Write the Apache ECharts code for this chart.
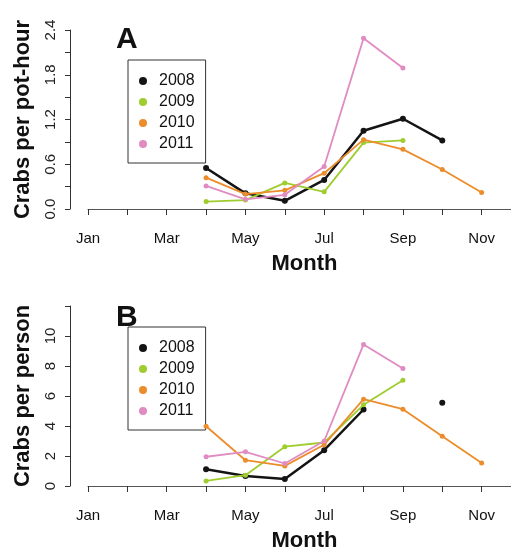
<!DOCTYPE html>
<html>
<head>
<meta charset="utf-8">
<script src="https://cdn.jsdelivr.net/npm/echarts@6/dist/echarts.min.js"></script>
<style>
html, body { margin: 0; padding: 0; background: #fff; }
#chart { width: 511px; height: 548px; }
</style>
</head>
<body>
<div id="chart"></div>
<script>
var months = [4, 5, 6, 7, 8, 9, 10, 11];
var monthNames = ['Jan', 'Feb', 'Mar', 'Apr', 'May', 'Jun', 'Jul', 'Aug', 'Sep', 'Oct', 'Nov', 'Dec'];
var years = ['2008', '2009', '2010', '2011'];
var colors = ['#141414', '#9fcd2e', '#ec8d2c', '#e08cc2'];

// A: crabs per pot-hour
var potHour2008 = [0.55, 0.21, 0.11, 0.39, 1.05, 1.21, 0.92, null];
var potHour2009 = [0.10, 0.12, 0.35, 0.23, 0.89, 0.92, null, null];
var potHour2010 = [0.42, 0.20, 0.25, 0.48, 0.93, 0.80, 0.53, 0.22];
var potHour2011 = [0.31, 0.13, 0.19, 0.57, 2.29, 1.89, null, null];

// B: crabs per person
var person2008 = [1.12, 0.67, 0.47, 2.39, 5.10, null, 5.55, null];
var person2009 = [0.34, 0.72, 2.62, 2.90, 5.41, 7.05, null, null];
var person2010 = [3.98, 1.72, 1.34, 2.75, 5.79, 5.12, 3.31, 1.54];
var person2011 = [1.95, 2.28, 1.50, 3.00, 9.44, 7.83, null, null];

var font = "'Liberation Sans', Arial, sans-serif";

function pairs(vals) {
	return vals.map(function(v, i) {
		return [months[i], v === null ? '-' : v];
	});
}

function makeX(idx) {
	return {
		type: 'value',
		gridIndex: idx,
		min: 1,
		max: 12,
		interval: 1,
		offset: 8,
		name: 'Month',
		nameLocation: 'middle',
		nameGap: 36,
		nameTextStyle: { fontFamily: font, fontSize: 22, fontWeight: 'bold', color: '#111' },
		splitLine: { show: false },
		axisLine: { lineStyle: { color: '#555', width: 1 } },
		axisTick: { length: 6, lineStyle: { color: '#333' } },
		axisLabel: {
			margin: 14,
			fontFamily: font,
			fontSize: 15,
			color: '#111',
			formatter: function(v) {
				return v % 2 === 1 && v < 12 ? monthNames[v - 1] : '';
			}
		}
	};
}

function makeY(idx, name, max, step, labelStep) {
	return {
		type: 'value',
		gridIndex: idx,
		min: 0,
		max: max,
		interval: step,
		offset: 18,
		name: name,
		nameLocation: 'middle',
		nameRotate: 90,
		nameGap: 36,
		nameTextStyle: { fontFamily: font, fontSize: 22, fontWeight: 'bold', color: '#111' },
		splitLine: { show: false },
		axisLine: { show: true, lineStyle: { color: '#333', width: 1 } },
		axisTick: { show: true, length: 5, lineStyle: { color: '#333' } },
		axisLabel: {
			rotate: 90,
			margin: 12,
			fontFamily: font,
			fontSize: 15,
			color: '#222',
			formatter: function(v) {
				var r = v / labelStep;
				if (Math.abs(r - Math.round(r)) > 1e-6 || v >= max - 1e-9 && max === 12) return '';
				return labelStep < 1 ? v.toFixed(1) : String(v);
			}
		}
	};
}

var seriesA = [potHour2008, potHour2009, potHour2010, potHour2011];
var seriesB = [person2008, person2009, person2010, person2011];
var series = [];

[seriesA, seriesB].forEach(function(set, g) {
	set.forEach(function(vals, k) {
		series.push({
			name: years[k],
			type: 'line',
			xAxisIndex: g,
			yAxisIndex: g,
			data: pairs(vals),
			symbol: 'circle',
			symbolSize: k === 0 ? 6 : 5,
			showSymbol: true,
			connectNulls: false,
			lineStyle: { color: colors[k], width: k === 0 ? 2.5 : 1.8 },
			itemStyle: { color: colors[k] },
			z: 2 + k
		});
	});
});

function makeLegend(top) {
	return {
		orient: 'vertical',
		left: 128,
		top: top,
		data: years,
		icon: 'circle',
		itemWidth: 8,
		itemHeight: 8,
		itemGap: 5,
		padding: [13, 11, 11, 11],
		borderColor: '#333',
		borderWidth: 1,
		selectedMode: false,
		textStyle: { fontFamily: font, fontSize: 16, lineHeight: 16, color: '#111', padding: [0, 0, 0, 7] }
	};
}

var chart = echarts.init(document.getElementById('chart'), null, { renderer: 'canvas' });

chart.setOption({
	backgroundColor: '#fff',
	animation: false,
	color: colors,
	title: [{
		text: 'A',
		left: 116,
		top: 25,
		padding: 0,
		textStyle: { fontFamily: font, fontSize: 30, fontWeight: 'bold', color: '#111' }
	}, {
		text: 'B',
		left: 116,
		top: 303,
		padding: 0,
		textStyle: { fontFamily: font, fontSize: 30, fontWeight: 'bold', color: '#111' }
	}],
	legend: [makeLegend(60), makeLegend(327)],
	grid: [{
		left: 88, right: -10, top: 30, height: 179, outerBoundsMode: 'none'
	}, {
		left: 88, right: -10, top: 306, height: 180, outerBoundsMode: 'none'
	}],
	xAxis: [makeX(0), makeX(1)],
	yAxis: [
		makeY(0, 'Crabs per pot-hour', 2.4, 0.3, 0.6),
		makeY(1, 'Crabs per person', 12, 2, 2)
	],
	series: series
});
</script>
</body>
</html>
